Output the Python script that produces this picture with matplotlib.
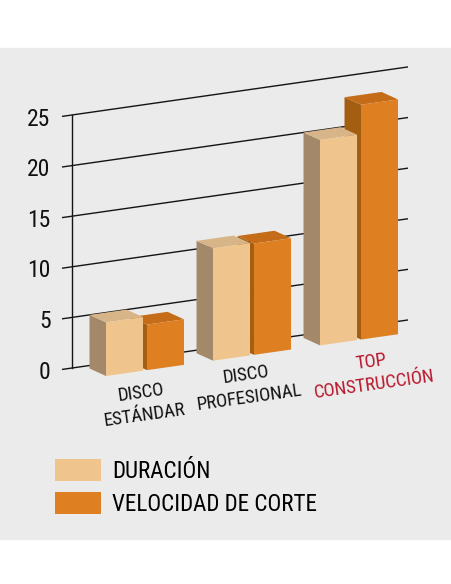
import numpy as np
import matplotlib.pyplot as plt
from matplotlib.patches import Polygon, Rectangle, Patch
from matplotlib.transforms import Affine2D

# Données du graphique
categories = ["DISCO\nESTÁNDAR", "DISCO\nPROFESIONAL", "TOP\nCONSTRUCCIÓN"]
duracion = [5.3, 11.1, 20.3]
velocidad = [4.5, 11.0, 23.2]
graduations = [0, 5, 10, 15, 20, 25]
series = ["DURACIÓN", "VELOCIDAD DE CORTE"]

# Mise en page des étiquettes de catégories
couleurs_texte = ["#111111", "#111111", "#b8182c"]
decalage_x = [-0.019, -0.037, 0.131]
decalage_y = [-3.27, -2.98, -3.47]

plt.rcParams['font.family'] = ['Roboto Condensed', 'Liberation Sans Narrow', 'DejaVu Sans']
plt.rcParams['font.stretch'] = 'condensed'

# Couleurs des faces (avant, côté, dessus)
clair = ('#f0c48d', '#a3896a', '#d8b588')
orange = ('#de7f22', '#a45e12', '#c46c18')

fig = plt.figure(figsize=(4.52, 5.84), dpi=100)

ax = fig.add_axes([0, 0, 1, 1])
ax.set_xlim(-1.355, 2.869)
ax.set_ylim(-21.34, 36.36)
ax.axis('off')
ax.add_patch(Rectangle((0, 0.077), 1, 0.841, transform=ax.transAxes,
                       color='#ebebeb', zorder=0))

# Perspective : cisaillement vers le haut à droite
x_mur = -0.682      # bord gauche du mur
x_fin = 2.458       # bord droit du mur
k = 1.512
cisaille = Affine2D().from_values(1, k, 0, 1, 0, -k * x_mur) + ax.transData

# Profondeur des barres (vers le haut à gauche)
ddx = -0.154
ddy = 0.74 - k * ddx
y_base = -1.27
largeur = 0.346
ecart = 0.037

# Grille du mur du fond
for v in graduations:
    ax.plot([x_mur - 0.094, x_fin], [v, v], color='#141414', lw=1.0,
            transform=cisaille, zorder=1, solid_capstyle='butt')
    ax.text(x_mur - 0.2, v - 0.1, str(v), transform=cisaille, ha='right',
            va='center', fontsize=17, color='#111111')
ax.plot([x_mur, x_mur], [0, graduations[-1]], color='#141414', lw=1.0,
        transform=cisaille, zorder=1)


def barre(x_g, hauteur, faces, z):
    """ Trace une barre en fausse 3D : côté gauche, dessus puis face avant
    """
    x_d = x_g + largeur
    y_h = y_base + hauteur
    avant = [(x_g, y_base), (x_d, y_base), (x_d, y_h), (x_g, y_h)]
    cote = [(x_g, y_base), (x_g, y_h), (x_g + ddx, y_h + ddy), (x_g + ddx, y_base + ddy)]
    dessus = [(x_g, y_h), (x_d, y_h), (x_d + ddx, y_h + ddy), (x_g + ddx, y_h + ddy)]
    for pts, c in ((cote, faces[1]), (dessus, faces[2]), (avant, faces[0])):
        ax.add_patch(Polygon(pts, closed=True, facecolor=c, edgecolor='none',
                             transform=cisaille, zorder=z))


for i in range(len(categories)):
    # La barre orange d'abord : la barre claire la masque en partie
    barre(i + ecart / 2, velocidad[i], orange, 2 + 2 * i)
    barre(i - ecart / 2 - largeur, duracion[i], clair, 3 + 2 * i)
    ax.text(i + decalage_x[i], y_base + decalage_y[i], categories[i],
            transform=cisaille, ha='center', va='center', rotation=8,
            rotation_mode='anchor', fontsize=13.5, linespacing=1.35,
            color=couleurs_texte[i], zorder=10)

poignees = [Patch(facecolor=clair[0]), Patch(facecolor=orange[0])]
ax.legend(poignees, series, loc='upper left', bbox_to_anchor=(0.122, 0.214),
          bbox_transform=fig.transFigure, frameon=False, fontsize=16.6,
          handlelength=2.0, handleheight=1.08, handletextpad=0.47,
          labelspacing=0.4, borderpad=0, borderaxespad=0)

fig.savefig('out.png', dpi=100, facecolor='white')
plt.close(fig)
